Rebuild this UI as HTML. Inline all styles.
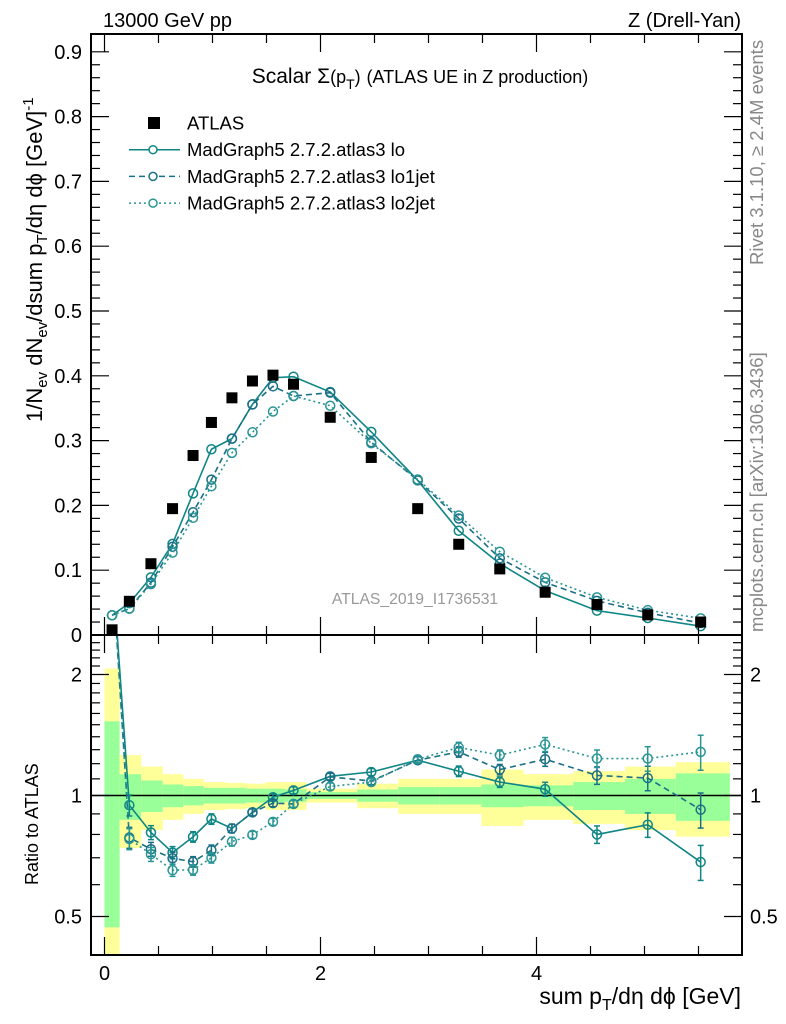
<!DOCTYPE html>
<html><head><meta charset="utf-8"><style>
body{margin:0;background:#fff;width:786px;height:1024px;overflow:hidden}
svg{display:block;font-family:"Liberation Sans",sans-serif}
</style></head><body>
<svg id="chart" width="786" height="1024" viewBox="0 0 786 1024">
<defs>
<clipPath id="mainclip"><rect x="91" y="34" width="651" height="601"/></clipPath>
<clipPath id="ratioclip"><rect x="91" y="635" width="651" height="320"/></clipPath>
</defs>
<g id="bands" clip-path="url(#ratioclip)"></g>
<g id="marks"></g>
<g id="axes"></g>
<text x="103" y="27" font-size="20">13000 GeV pp</text>
<text x="741" y="27" font-size="20" text-anchor="end">Z (Drell-Yan)</text>
<text x="420" y="83" font-size="21" text-anchor="middle">Scalar Σ<tspan font-size="18">(p</tspan><tspan font-size="14" dy="6">T</tspan><tspan font-size="18" dy="-6">)</tspan> <tspan font-size="18">(ATLAS UE in Z production)</tspan></text>
<text x="415" y="604" font-size="15.7" fill="#999" text-anchor="middle">ATLAS_2019_I1736531</text>
<text transform="translate(763,265) rotate(-90)" font-size="18.5" fill="#888">Rivet 3.1.10, ≥ 2.4M events</text>
<text transform="translate(763,632) rotate(-90)" font-size="18.5" fill="#888">mcplots.cern.ch [arXiv:1306.3436]</text>
<text transform="translate(42,422) rotate(-90)" font-size="22">1/N<tspan font-size="15" dy="5">ev</tspan><tspan dy="-5"> dN</tspan><tspan font-size="15" dy="5">ev</tspan><tspan dy="-5">/dsum p</tspan><tspan font-size="15" dy="5">T</tspan><tspan dy="-5">/dη dϕ  [GeV]</tspan><tspan font-size="15" dy="-9">-1</tspan></text>
<text transform="translate(38,885) rotate(-90)" font-size="18">Ratio to ATLAS</text>
<text x="741" y="1004" font-size="23" text-anchor="end">sum p<tspan font-size="16" dy="6">T</tspan><tspan dy="-6">/dη dϕ [GeV]</tspan></text>
<g id="legend"></g>
</svg>
<script>
const xc=[0.07,0.23,0.43,0.63,0.82,0.99,1.18,1.37,1.56,1.75,2.09,2.47,2.9,3.28,3.66,4.08,4.56,5.03,5.52];
const edges=[0,0.14,0.34,0.54,0.73,0.92,1.12,1.31,1.49,1.67,1.87,2.34,2.72,3.1,3.49,3.88,4.34,4.82,5.29,5.79];
const atlas=[0.008,0.052,0.11,0.195,0.277,0.328,0.366,0.392,0.401,0.387,0.336,0.274,0.195,0.14,0.102,0.066,0.047,0.031,0.02];
const rLo=[3.8,0.946,0.809,0.721,0.789,0.874,0.828,0.908,0.99,1.03,1.116,1.144,1.224,1.149,1.08,1.037,0.80,0.846,0.683];
const rLo1=[3.8,0.786,0.735,0.698,0.684,0.731,0.828,0.908,0.957,0.953,1.113,1.086,1.224,1.284,1.16,1.231,1.122,1.105,0.922];
const rLo2=[3.8,0.78,0.714,0.652,0.653,0.70,0.768,0.798,0.86,0.953,1.053,1.08,1.231,1.317,1.26,1.34,1.236,1.236,1.284];
const rErr=[0.05,0.06,0.04,0.035,0.03,0.03,0.025,0.02,0.02,0.02,0.02,0.02,0.02,0.03,0.03,0.04,0.05,0.07,0.1];
const band1=[0.53,0.13,0.09,0.065,0.055,0.045,0.045,0.04,0.04,0.035,0.02,0.035,0.05,0.05,0.065,0.06,0.08,0.1,0.135];
const band2=[1.07,0.26,0.18,0.13,0.10,0.08,0.075,0.07,0.08,0.08,0.04,0.07,0.1,0.1,0.16,0.13,0.15,0.18,0.21];
const yTicks=[0,0.1,0.2,0.3,0.4,0.5,0.6,0.7,0.8,0.9];
const xTicks=[0,2,4];
const rTicks=[0.5,1,2];

const NS="http://www.w3.org/2000/svg";
const X=v=>104.5+v*108;
const Y=v=>635-v*648;
const R=v=>795.5-Math.log2(v)*121;
function mk(tag,attrs,parent){const e=document.createElementNS(NS,tag);for(const k in attrs)e.setAttribute(k,attrs[k]);parent.appendChild(e);return e;}
const bands=document.getElementById('bands'),marks=document.getElementById('marks'),axes=document.getElementById('axes'),legend=document.getElementById('legend');

for(let i=0;i<atlas.length;i++){
  const x1=X(edges[i]),x2=X(edges[i+1]);
  const lo2=Math.max(1-band2[i],0.3);
  const b=mk('rect',{x:x1,y:R(1+band2[i]),width:x2-x1,height:R(lo2)-R(1+band2[i]),fill:'#ffff99'},bands);
  
  
  const lo1=Math.max(1-band1[i],0.3);
  const g=mk('rect',{x:x1,y:R(1+band1[i]),width:x2-x1,height:R(lo1)-R(1+band1[i]),fill:'#99ff99'},bands);
  
  
}
mk('line',{x1:91,x2:742,y1:R(1),y2:R(1),stroke:'#000','stroke-width':1.5},marks);

const series=[
 {r:rLo,col:'#0f8585',dash:'',name:'lo'},
 {r:rLo1,col:'#1b6f86',dash:'6,4',name:'lo1jet'},
 {r:rLo2,col:'#2a9595',dash:'2,3',name:'lo2jet'}];
const gm=mk('g',{'clip-path':'url(#mainclip)'},marks);
const gr=mk('g',{'clip-path':'url(#ratioclip)'},marks);
series.forEach(s=>{
  const mv=s.r.map((r,i)=>r*atlas[i]);
  const pm=mk('polyline',{points:xc.map((x,i)=>X(x)+','+Y(mv[i])).join(' '),fill:'none',stroke:s.col,'stroke-width':1.6,'stroke-dasharray':s.dash},gm);
  
  
  const pr=mk('polyline',{points:xc.map((x,i)=>X(x)+','+R(s.r[i])).join(' '),fill:'none',stroke:s.col,'stroke-width':1.6,'stroke-dasharray':s.dash},gr);
  
  
  xc.forEach((x,i)=>{
    const c=mk('circle',{cx:X(x),cy:Y(mv[i]),r:4.5,fill:'none',stroke:s.col,'stroke-width':1.5},gm);
    
    
    const e1=R(s.r[i]*(1+rErr[i])),e2=R(s.r[i]*(1-rErr[i]));
    mk('line',{x1:X(x),x2:X(x),y1:e1,y2:e2,stroke:s.col,'stroke-width':1.5},gr);
    mk('line',{x1:X(x)-3,x2:X(x)+3,y1:e1,y2:e1,stroke:s.col,'stroke-width':1.5},gr);
    mk('line',{x1:X(x)-3,x2:X(x)+3,y1:e2,y2:e2,stroke:s.col,'stroke-width':1.5},gr);
    const c2=mk('circle',{cx:X(x),cy:R(s.r[i]),r:4.5,fill:'#fff','fill-opacity':0,stroke:s.col,'stroke-width':1.5},gr);
    
    
  });
});
xc.forEach((x,i)=>{
  const s=mk('rect',{x:X(x)-5.5,y:Y(atlas[i])-5.5,width:11,height:11,fill:'#000'},gm);
  
  
});

mk('rect',{x:91,y:34,width:651,height:601,fill:'none',stroke:'#000','stroke-width':2},axes);
mk('rect',{x:91,y:635,width:651,height:320,fill:'none',stroke:'#000','stroke-width':2},axes);
for(let v=0;v<=0.92;v+=0.02){
  const maj=Math.abs(v*10-Math.round(v*10))<1e-6;const L=maj?18:9;
  mk('line',{x1:91,x2:91+L,y1:Y(v),y2:Y(v),stroke:'#000','stroke-width':1.2},axes);
  mk('line',{x1:742-L,x2:742,y1:Y(v),y2:Y(v),stroke:'#000','stroke-width':1.2},axes);
}
yTicks.forEach(v=>{const t=mk('text',{x:82,y:Y(v)+7,'font-size':20,'text-anchor':'end'},axes);t.textContent=v===0?'0':v.toFixed(1);

});
for(let v=0;v<=5.9;v+=0.5){
  const maj=Math.abs(v%2)<1e-6;const L=maj?18:9;
  [[635,635-L],[34,34+L],[955,955-L],[635,635+L]].forEach(p=>mk('line',{x1:X(v),x2:X(v),y1:p[0],y2:p[1],stroke:'#000','stroke-width':1.2},axes));
}
xTicks.forEach(v=>{const t=mk('text',{x:X(v),y:980,'font-size':20,'text-anchor':'middle'},axes);t.textContent=String(v);

});
[0.4,0.5,0.6,0.7,0.8,0.9,1,1.1,1.2,1.3,1.4,1.5,1.6,1.7,1.8,1.9,2,2.1,2.2,2.3,2.4,2.5].forEach(v=>{
  const maj=rTicks.includes(v);const L=maj?18:9;
  if(R(v)<636||R(v)>954)return;
  mk('line',{x1:91,x2:91+L,y1:R(v),y2:R(v),stroke:'#000','stroke-width':1.2},axes);
  mk('line',{x1:742-L,x2:742,y1:R(v),y2:R(v),stroke:'#000','stroke-width':1.2},axes);
});
rTicks.forEach(v=>{const t=mk('text',{x:82,y:R(v)+7,'font-size':20,'text-anchor':'end'},axes);t.textContent=String(v);

});
rTicks.forEach(v=>{const t=mk('text',{x:750,y:R(v)+7,'font-size':20},axes);t.textContent=String(v);

});

const s0=mk('rect',{x:148,y:117,width:12,height:12,fill:'#000'},legend);


const labels=['ATLAS','MadGraph5 2.7.2.atlas3 lo','MadGraph5 2.7.2.atlas3 lo1jet','MadGraph5 2.7.2.atlas3 lo2jet'];
labels.forEach((l,i)=>{
  const y=123+i*26.7;
  if(i>0){const s=series[i-1];
    mk('line',{x1:129,x2:180,y1:y,y2:y,stroke:s.col,'stroke-width':1.5,'stroke-dasharray':s.dash},legend);
    mk('circle',{cx:153,cy:y,r:4,fill:'#fff',stroke:s.col,'stroke-width':1.5},legend);}
  const t=mk('text',{x:187,y:y+6.5,'font-size':18.5},legend);t.textContent=l;
  
  
});
</script>
</body></html>
